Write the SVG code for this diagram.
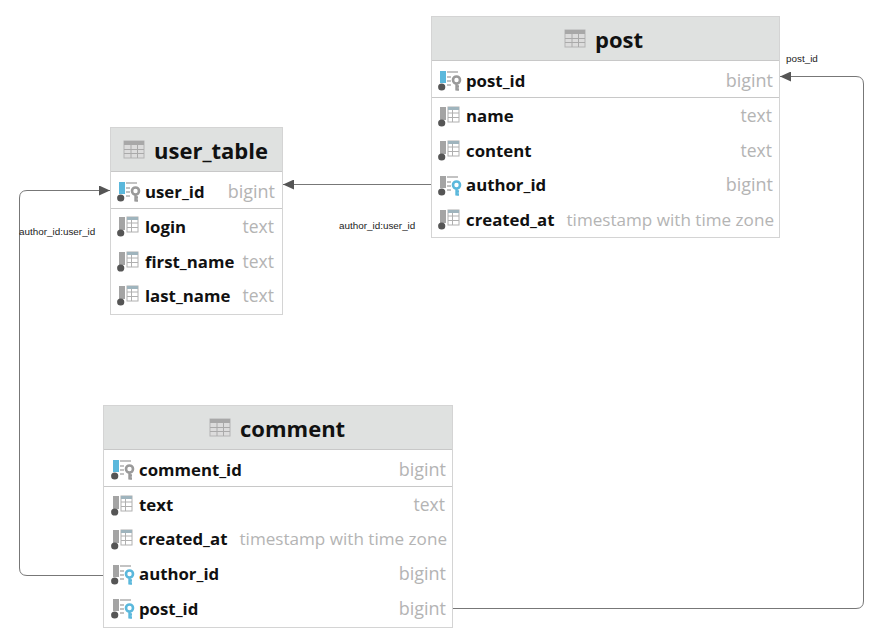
<svg xmlns="http://www.w3.org/2000/svg" width="880" height="644" viewBox="0 0 880 644">
<style>
text{font-family:"Open Sans","Noto Sans","Liberation Sans",sans-serif}
.box{fill:#fff;stroke:#d4d4d4;stroke-width:1}
.head{fill:#dfe1e0}
.sep{stroke:#c8c8c8;stroke-width:1}
.title{font-size:22px;font-weight:700;fill:#111}
.name{font-size:16.800px;font-weight:700;fill:#111}
.type{font-size:17.500px;fill:#b4b4b4;text-anchor:end}
.ts{font-size:17.100px}
.big{font-size:18px}
.lbl{font-family:"Liberation Sans",Arial,sans-serif;font-size:9.900px;fill:#222}
.conn{fill:none;stroke:#777;stroke-width:1}
</style>
<defs>
<marker id="arr" markerWidth="12" markerHeight="10" refX="11" refY="5" orient="auto-start-reverse" markerUnits="userSpaceOnUse"><path d="M0 0L11 5L0 10Z" fill="#555"/></marker>
<g id="tbl"><rect x="0" y="0" width="20" height="17" fill="#dcdcdc" stroke="#b4b4b4"/><rect x="0" y="0" width="20" height="4" fill="#a8a8a8"/><path d="M0 8.500H20M0 12.500H20M7 4V17M13.500 4V17" stroke="#aaa" fill="none"/></g>
<g id="col"><rect x="2" y="0" width="6" height="13" fill="#a4a4a4"/><circle cx="3.700" cy="16" r="3.600" fill="#555"/><rect x="10" y="0" width="11" height="15" fill="#fff" stroke="#b0b0b0"/><rect x="10" y="0" width="11" height="3" fill="#9fb4bd"/><path d="M10 6H21M10 10.500H21M14.500 3V15" stroke="#b0b0b0" fill="none"/></g>
<g id="pk"><rect x="2" y="0" width="6" height="12" fill="#5bb8dc"/><circle cx="3.700" cy="16" r="3.600" fill="#555"/><path d="M9 1H20M9 6H13M9 10H13M9 14H13" stroke="#b0b0b0" stroke-width="1.500" fill="none"/><circle cx="18.500" cy="9" r="3.500" fill="none" stroke="#9a9a9a" stroke-width="2.600"/><path d="M18.500 12V19.500M18.500 15.500H21M18.500 18.500H21" stroke="#9a9a9a" stroke-width="2.400" fill="none"/></g>
<g id="fk"><rect x="2" y="0" width="6" height="12" fill="#a4a4a4"/><circle cx="3.700" cy="16" r="3.600" fill="#555"/><path d="M9 1H20M9 6H13M9 10H13M9 14H13" stroke="#b0b0b0" stroke-width="1.500" fill="none"/><circle cx="18.500" cy="9" r="3.500" fill="none" stroke="#5bb8dc" stroke-width="2.600"/><path d="M18.500 12V19.500M18.500 15.500H21M18.500 18.500H21" stroke="#5bb8dc" stroke-width="2.400" fill="none"/></g>
</defs>
<g id="connectors">
<path class="conn" d="M431 184.500H283" marker-end="url(#arr)"/>
<path class="conn" d="M111 575.500H27Q19.500 575.500 19.500 568V198Q19.500 190.500 27 190.500H110" marker-end="url(#arr)"/>
<path class="conn" d="M452 608.500H856Q863.500 608.500 863.500 601V84Q863.500 76.500 856 76.500H780" marker-end="url(#arr)"/>
<text class="lbl" x="339" y="229">author_id:user_id</text>
<text class="lbl" x="19" y="235">author_id:user_id</text>
<text class="lbl" x="786" y="62">post_id</text>
</g>
<g id="post">
<rect class="box" x="431.500" y="16.500" width="348" height="221"/>
<rect class="head" x="432" y="17" width="347" height="43"/>
<use href="#tbl" x="565" y="30"/>
<text class="title" x="595" y="48">post</text>
<path class="sep" d="M432 60.500H779M432 97.500H779"/>
<use href="#pk" x="438" y="71"/><text class="name" x="466" y="87">post_id</text><text class="type big" x="773" y="87">bigint</text>
<use href="#col" x="438" y="107"/><text class="name" x="466" y="122">name</text><text class="type" x="772" y="122">text</text>
<use href="#col" x="438" y="141"/><text class="name" x="466" y="157">content</text><text class="type" x="772" y="157">text</text>
<use href="#fk" x="438" y="176"/><text class="name" x="466" y="191">author_id</text><text class="type big" x="773" y="191">bigint</text>
<use href="#col" x="438" y="210"/><text class="name" x="466" y="226">created_at</text><text class="type ts" x="774" y="226">timestamp with time zone</text>
</g>
<g id="user_table">
<rect class="box" x="110.500" y="127.500" width="172" height="187"/>
<rect class="head" x="111" y="128" width="171" height="43"/>
<use href="#tbl" x="124" y="141"/>
<text class="title" x="154" y="159">user_table</text>
<path class="sep" d="M111 171.500H282M111 208.500H282"/>
<use href="#pk" x="117" y="182"/><text class="name" x="145" y="198">user_id</text><text class="type big" x="275" y="198">bigint</text>
<use href="#col" x="117" y="217"/><text class="name" x="145" y="233">login</text><text class="type" x="274" y="233">text</text>
<use href="#col" x="117" y="252"/><text class="name" x="145" y="268">first_name</text><text class="type" x="274" y="268">text</text>
<use href="#col" x="117" y="286"/><text class="name" x="145" y="302">last_name</text><text class="type" x="274" y="302">text</text>
</g>
<g id="comment">
<rect class="box" x="103.500" y="405.500" width="349" height="222"/>
<rect class="head" x="104" y="406" width="348" height="43"/>
<use href="#tbl" x="210" y="419"/>
<text class="title" x="240" y="437">comment</text>
<path class="sep" d="M104 449.500H452M104 486.500H452"/>
<use href="#pk" x="111" y="460"/><text class="name" x="139" y="476">comment_id</text><text class="type big" x="446" y="476">bigint</text>
<use href="#col" x="111" y="496"/><text class="name" x="139" y="511">text</text><text class="type" x="445" y="511">text</text>
<use href="#col" x="111" y="530"/><text class="name" x="139" y="545">created_at</text><text class="type ts" x="447" y="545">timestamp with time zone</text>
<use href="#fk" x="111" y="565"/><text class="name" x="139" y="580">author_id</text><text class="type big" x="446" y="580">bigint</text>
<use href="#fk" x="111" y="599"/><text class="name" x="139" y="615">post_id</text><text class="type big" x="446" y="615">bigint</text>
</g>
</svg>
